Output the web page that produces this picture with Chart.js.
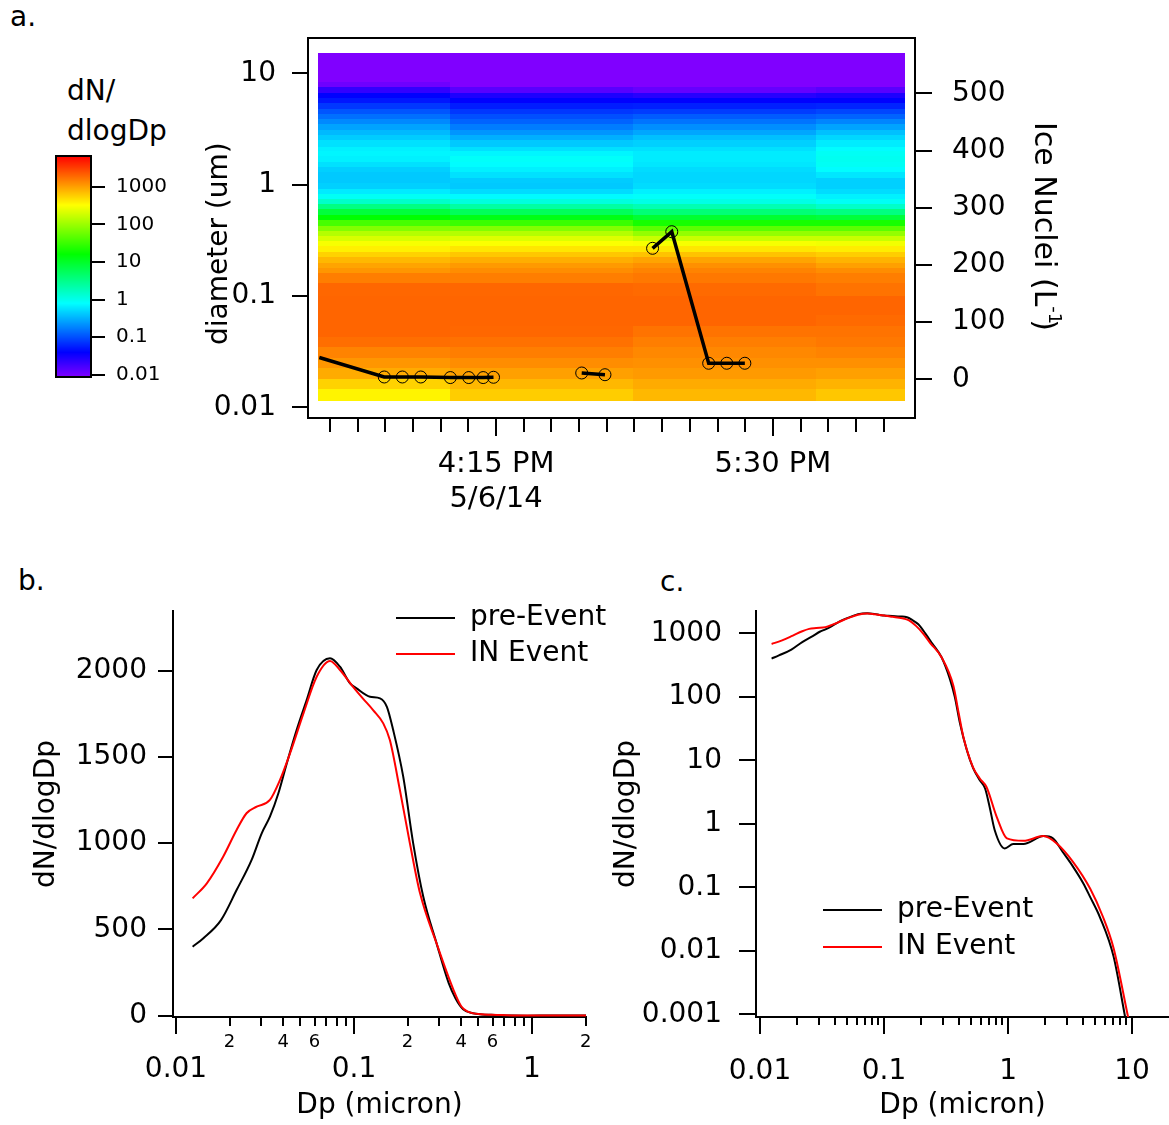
<!DOCTYPE html>
<html>
<head>
<meta charset="utf-8">
<script src="https://cdn.jsdelivr.net/npm/chart.js@4"></script>
<style>
  body { margin: 0; width: 1169px; height: 1125px; background: #fff; position: relative; overflow: hidden; font-family: "DejaVu Sans", sans-serif; }
  canvas, .lbl { position: absolute; }
  .lbl { font-size: 28px; line-height: 1; color: #000; }
</style>
</head>
<body>
<div class="lbl" style="left:10px;top:3px">a.</div>
<div class="lbl" style="left:18px;top:567px">b.</div>
<div class="lbl" style="left:660px;top:568px">c.</div>
<div class="lbl" style="left:67px;top:71px;line-height:40px">dN/<br>dlogDp</div>
<canvas id="cbar" width="160" height="260" style="left:40px;top:140px"></canvas>
<canvas id="chartA" width="900" height="500" style="left:190px;top:20px"></canvas>
<canvas id="chartB" width="608" height="565" style="left:0;top:560px"></canvas>
<canvas id="chartC" width="569" height="565" style="left:600px;top:560px"></canvas>
<script>
// ---- panel a: size distribution vs time ----
// scan column edges (clock time) and diameter bin edges (um)
const scanTimes = ['15:26:45', '16:02:30', '16:52:00', '17:41:40', '18:05:48'];
const binEdges = [0.0115, 0.0146, 0.018, 0.0225, 0.028, 0.035, 0.043, 0.054, 0.067, 0.083, 0.1, 0.13,
  0.16, 0.18, 0.2, 0.225, 0.25, 0.28, 0.31, 0.345, 0.38, 0.43, 0.48, 0.54, 0.6, 0.67, 0.74, 0.83,
  0.92, 1.03, 1.15, 1.29, 1.43, 1.6, 1.8, 2.0, 2.2, 2.5, 2.8, 3.1, 3.5, 3.9, 4.3, 4.8, 5.4, 6.0,
  6.7, 7.5, 8.3, 9.2, 10.3, 15.1];
// dN/dlogDp per bin, smallest diameter first
const scan1 = [370, 555, 880, 1130, 1400, 1800, 2000, 2000, 2000, 2000, 1950, 1500,
  1130, 950, 750, 555, 390, 295, 204, 135, 75, 37, 16, 8, 3.5, 1.5, 0.9, 0.63, 0.46, 0.42, 0.42,
  0.46, 0.56, 0.68, 0.72, 0.68, 0.56, 0.44, 0.35, 0.27, 0.2, 0.146, 0.108, 0.076, 0.051, 0.04,
  0.022, 0.0108, 0.007, 0.006, 0.005];
const scan2 = [590, 750, 1000, 1260, 1500, 1750, 1950, 2000, 2000, 2000, 1950, 1500,
  1260, 1070, 850, 630, 440, 310, 220, 135, 75, 32, 12.6, 5.6, 2.4, 1.2, 0.76, 0.53, 0.42, 0.44,
  0.56, 0.68, 0.78, 0.85, 0.72, 0.56, 0.42, 0.31, 0.23, 0.17, 0.128, 0.1, 0.076, 0.055, 0.04,
  0.028, 0.014, 0.008, 0.007, 0.006, 0.005];
const scan3 = [750, 880, 1070, 1200, 1330, 1500, 1700, 2000, 2000, 2000, 1900, 1600,
  1400, 1200, 950, 660, 440, 295, 170, 93, 47, 21, 9, 4, 1.95, 1.07, 0.85, 0.68, 0.53, 0.5, 0.5,
  0.53, 0.6, 0.64, 0.64, 0.56, 0.46, 0.38, 0.28, 0.21, 0.155, 0.115, 0.08, 0.057, 0.04, 0.025,
  0.012, 0.008, 0.007, 0.006, 0.005];
const scan4 = [630, 800, 1000, 1200, 1400, 1600, 1700, 1900, 2000, 2000, 1700, 1500,
  1260, 1000, 800, 590, 410, 280, 170, 93, 47, 21, 8, 3.5, 1.5, 0.9, 0.68, 0.53, 0.46, 0.46, 0.6,
  0.78, 0.9, 0.95, 0.9, 0.78, 0.64, 0.5, 0.38, 0.27, 0.19, 0.128, 0.09, 0.06, 0.04, 0.028, 0.014,
  0.008, 0.007, 0.006, 0.005];

// ice nuclei concentration (L-1), null = gap in the record
const inTimes = ['15:27:06', '15:44:42', '15:49:36', '15:54:36', '16:02:36', '16:07:36', '16:11:30', '16:14:18',
  '16:26:00', '16:38:12', '16:44:30', '16:50:00', '16:57:24', '17:02:36', '17:12:36', '17:17:30', '17:22:24'];
const inConc = [38, 4, 4, 4, 3, 3, 3, 3.5, null, 11, 8, null, 229, 258, 28, 28, 28];

const timeLabels = ['16:15', '17:30'];
const dateLabel = '5/6/14';
const diamTicks = [0.01, 0.1, 1, 10];
const inTicks = [0, 100, 200, 300, 400, 500];
const cbTicks = [0.01, 0.1, 1, 10, 100, 1000];
const cbRange = [0.0088, 6600];

// ---- panels b and c: averaged size distributions ----
const dpPre = [0.0124, 0.0142, 0.0179, 0.0219, 0.0266, 0.0303, 0.0337, 0.0376, 0.0419, 0.0476, 0.0542,
  0.0617, 0.0733, 0.0834, 0.095, 0.1034, 0.123, 0.14, 0.153, 0.166, 0.189, 0.215, 0.245, 0.291, 0.34,
  0.372, 0.41, 0.465, 0.523, 0.59, 0.653, 0.71, 0.78, 0.94, 1.1, 1.33, 1.93, 2.3, 2.76, 3.35, 4.04,
  4.6, 5.5, 7.1, 8.8];
const dnPre = [400, 448, 554, 728, 903, 1057, 1153, 1289, 1462, 1655, 1829, 2003, 2071, 2022, 1926, 1897,
  1848, 1839, 1790, 1655, 1385, 999, 689, 419, 190, 100, 38, 14.5, 7.5, 4.9, 3.6, 1.86, 0.8, 0.41,
  0.48, 0.48, 0.64, 0.59, 0.36, 0.21, 0.116, 0.07, 0.034, 0.0081, 0.0009];
const dpIn = [0.0124, 0.0149, 0.0184, 0.0219, 0.0249, 0.0284, 0.0337, 0.0384, 0.0437, 0.052, 0.0617,
  0.0733, 0.0834, 0.097, 0.112, 0.128, 0.146, 0.159, 0.181, 0.206, 0.235, 0.291, 0.362, 0.4, 0.436,
  0.52, 0.59, 0.67, 0.81, 0.98, 1.33, 1.93, 2.47, 3.35, 4.6, 5.8, 7.1, 9.3];
const dnIn = [680, 767, 921, 1076, 1173, 1211, 1250, 1366, 1520, 1752, 1964, 2055, 2003, 1916, 1839, 1771,
  1694, 1597, 1308, 999, 709, 419, 150, 55, 23.5, 7.9, 5.2, 3.8, 1.29, 0.59, 0.54, 0.64, 0.49, 0.25,
  0.095, 0.035, 0.011, 0.0009];
const linTicksB = [0, 500, 1000, 1500, 2000];
const logTicksC = [0.001, 0.01, 0.1, 1, 10, 100, 1000];

Chart.defaults.font.family = '"DejaVu Sans", sans-serif';
Chart.defaults.color = '#000';

const FONT = '"DejaVu Sans", sans-serif';
const toMin = t => { const [h, m, s] = t.split(':').map(Number); return h * 60 + m + (s || 0) / 60; };
const clean = v => Number(v.toPrecision(6));
const isDecade = v => Math.abs(Math.log10(v) - Math.round(Math.log10(v))) < 1e-6;
const pts = (xs, ys) => xs.map((x, i) => ({x: x, y: ys[i]}));

// fixed axis sizes, no extra room kept for half labels
const fixV = w => s => { s.width = w; s.paddingTop = 0; s.paddingBottom = 0; };
const fixH = h => s => { s.height = h; s.paddingLeft = 0; s.paddingRight = 0; };

// 1..9 x 10^n ticks between lo and hi
function logMinor(lo, hi) {
  const out = [];
  for (let e = Math.floor(Math.log10(lo)); e <= Math.ceil(Math.log10(hi)); e++) {
    for (let m = 1; m < 10; m++) {
      const v = clean(m * Math.pow(10, e));
      if (v >= lo && v <= hi) out.push(v);
    }
  }
  return out;
}

// Igor "Rainbow" on a log scale: red at the top of the range, violet at the bottom
function rainbow(v) {
  const lo = Math.log10(cbRange[0]), hi = Math.log10(cbRange[1]);
  let f = (hi - Math.log10(v)) / (hi - lo);
  f = Math.min(1, Math.max(0, f));
  return 'hsl(' + (f * 270).toFixed(1) + ',100%,50%)';
}

// tick marks drawn outward from each axis
function tickMarks(specs) {
  return {
    id: 'tickMarks',
    afterDraw(chart) {
      const ctx = chart.ctx;
      ctx.save();
      ctx.strokeStyle = '#000';
      ctx.lineWidth = 2;
      specs.forEach(sp => {
        const s = chart.scales[sp.scale];
        sp.values.forEach(v => {
          const len = sp.len(v);
          const p = Math.round(s.getPixelForValue(v));
          ctx.beginPath();
          if (s.position === 'bottom') { ctx.moveTo(p, s.top); ctx.lineTo(p, s.top + len); }
          else if (s.position === 'left') { ctx.moveTo(s.right, p); ctx.lineTo(s.right - len, p); }
          else { ctx.moveTo(s.left, p); ctx.lineTo(s.left + len, p); }
          ctx.stroke();
        });
      });
      ctx.restore();
    }
  };
}

function lineLegend(x, y, gap) {
  return {
    id: 'lineLegend',
    afterDraw(chart) {
      const ctx = chart.ctx;
      ctx.save();
      ctx.font = '28px ' + FONT;
      ctx.textBaseline = 'middle';
      ctx.fillStyle = '#000';
      chart.data.datasets.forEach((d, i) => {
        const yy = y + i * gap;
        ctx.strokeStyle = d.borderColor;
        ctx.lineWidth = 2;
        ctx.beginPath(); ctx.moveTo(x, yy); ctx.lineTo(x + 59, yy); ctx.stroke();
        ctx.fillText(d.label, x + 74, yy);
      });
      ctx.restore();
    }
  };
}

const noGrid = {display: false, drawTicks: false};
const axisBorder = {display: true, color: '#000', width: 2};
const common = {
  responsive: false, animation: false, devicePixelRatio: 1,
  plugins: {legend: {display: false}, tooltip: {enabled: false}}
};

// ---- colour bar ----
new Chart(document.getElementById('cbar'), {
  type: 'scatter',
  data: {datasets: []},
  options: {
    ...common,
    layout: {padding: {left: 16, top: 16, right: 0, bottom: 23}},
    scales: {
      x: {display: false, min: 0, max: 1},
      y: {
        type: 'logarithmic', position: 'right', min: cbRange[0], max: cbRange[1],
        grid: noGrid, border: {display: false},
        afterFit: fixV(109),
        afterBuildTicks: s => { s.ticks = cbTicks.map(v => ({value: v})); },
        ticks: {autoSkip: false, padding: 25, font: {size: 20}, callback: v => String(v)}
      }
    }
  },
  plugins: [{
    id: 'gradient',
    beforeDraw(chart) {
      const {ctx, chartArea: a, scales: {y}} = chart;
      for (let py = Math.floor(a.top); py < a.bottom; py++) {
        ctx.fillStyle = rainbow(y.getValueForPixel(py + 0.5));
        ctx.fillRect(a.left, py, a.right - a.left, 1);
      }
      ctx.strokeStyle = '#000';
      ctx.lineWidth = 2;
      ctx.strokeRect(a.left, a.top, a.right - a.left, a.bottom - a.top);
    }
  }, tickMarks([{scale: 'y', values: cbTicks, len: () => 14}])]
});

// ---- panel a ----
const scans = [scan1, scan2, scan3, scan4];
const majorTimes = timeLabels.map(toMin);
const minorTimes = [];
for (let m = toMin('15:30'); m <= toMin('18:00'); m += 7.5) minorTimes.push(m);
const isMajorTime = v => majorTimes.some(m => Math.abs(m - v) < 0.01);

function timeLabel(v) {
  const i = majorTimes.findIndex(m => Math.abs(m - v) < 0.01);
  if (i < 0) return '';
  const h = Math.floor(v / 60), m = Math.round(v % 60);
  const txt = ((h - 1) % 12 + 1) + ':' + String(m).padStart(2, '0') + (h >= 12 ? ' PM' : ' AM');
  return i === 0 ? [txt, dateLabel] : txt;
}

const panelA = {
  id: 'panelA',
  beforeDatasetsDraw(chart) {
    const {ctx, scales: {x, y}} = chart;
    ctx.save();
    scans.forEach((col, c) => {
      const x0 = Math.round(x.getPixelForValue(toMin(scanTimes[c])));
      const x1 = Math.round(x.getPixelForValue(toMin(scanTimes[c + 1])));
      col.forEach((v, r) => {
        const y0 = Math.round(y.getPixelForValue(binEdges[r]));
        const y1 = Math.round(y.getPixelForValue(binEdges[r + 1]));
        ctx.fillStyle = rainbow(v);
        ctx.fillRect(x0, y1, x1 - x0, y0 - y1);
      });
    });
    ctx.restore();
  },
  afterDraw(chart) {
    const {ctx, chartArea: a} = chart;
    ctx.save();
    ctx.strokeStyle = '#000';
    ctx.lineWidth = 2;
    ctx.strokeRect(a.left, a.top, a.right - a.left, a.bottom - a.top);
    ctx.fillStyle = '#000';
    ctx.textBaseline = 'middle';
    ctx.textAlign = 'left';
    // left axis title, reading upwards
    ctx.save();
    ctx.font = '28px ' + FONT;
    ctx.translate(a.left - 88, a.bottom - 73);
    ctx.rotate(-Math.PI / 2);
    ctx.fillText('diameter (um)', 0, 0);
    ctx.restore();
    // right axis title, reading downwards, with superscript
    ctx.save();
    ctx.translate(a.right + 128, a.top + 84);
    ctx.rotate(Math.PI / 2);
    ctx.font = '30px ' + FONT;
    const main = 'Ice Nuclei (L';
    const w = ctx.measureText(main).width;
    ctx.fillText(main, 0, 0);
    ctx.fillText(')', w + 13, 0);
    ctx.font = '18px ' + FONT;
    ctx.fillText('-1', w, -11);
    ctx.restore();
    ctx.restore();
  }
};

new Chart(document.getElementById('chartA'), {
  type: 'line',
  data: {
    datasets: [{
      label: 'Ice Nuclei', yAxisID: 'y2',
      data: pts(inTimes.map(toMin), inConc),
      borderColor: '#000', borderWidth: 3.5, spanGaps: false,
      pointRadius: c => c.dataIndex === 0 ? 0 : 6,
      pointBorderColor: '#000', pointBorderWidth: 1, pointBackgroundColor: 'rgba(0,0,0,0)'
    }]
  },
  options: {
    ...common,
    layout: {padding: {top: 18, left: 0, right: 0, bottom: 0}},
    scales: {
      x: {
        type: 'linear', min: 924.04, max: 1088.5, grid: noGrid, border: {display: false},
        afterBuildTicks: s => { s.ticks = minorTimes.map(v => ({value: v})); },
        afterFit: fixH(102),
        ticks: {autoSkip: false, maxRotation: 0, minRotation: 0, padding: 28,
          font: {size: 29, lineHeight: 1.24}, callback: v => timeLabel(v)}
      },
      y: {
        type: 'logarithmic', position: 'left', min: 0.00802, max: 20.8, grid: noGrid, border: {display: false},
        afterBuildTicks: s => { s.ticks = diamTicks.map(v => ({value: v})); },
        afterFit: fixV(118),
        ticks: {autoSkip: false, padding: 32, font: {size: 28}, callback: v => String(v)}
      },
      y2: {
        type: 'linear', position: 'right', min: -67.7, max: 596.7, grid: noGrid, border: {display: false},
        afterBuildTicks: s => { s.ticks = inTicks.map(v => ({value: v})); },
        afterFit: fixV(175),
        ticks: {autoSkip: false, padding: 37, font: {size: 28}, callback: v => String(v)}
      }
    }
  },
  plugins: [panelA, tickMarks([
    {scale: 'x', values: minorTimes, len: v => isMajorTime(v) ? 18 : 14},
    {scale: 'y', values: diamTicks, len: () => 16},
    {scale: 'y2', values: inTicks, len: () => 17}
  ])]
});

// ---- panels b and c ----
function distDatasets() {
  return [
    {label: 'pre-Event', data: pts(dpPre, dnPre), borderColor: '#000000', borderWidth: 2,
      pointRadius: 0, cubicInterpolationMode: 'monotone', order: 1},
    {label: 'IN Event', data: pts(dpIn, dnIn), borderColor: '#ff0000', borderWidth: 2,
      pointRadius: 0, cubicInterpolationMode: 'monotone', order: 0}
  ];
}

const ticksB = logMinor(0.01, 2.01);
const majorB = v => isDecade(v);
const digitB = v => Math.round(v / Math.pow(10, Math.floor(Math.log10(v) + 1e-9)));

new Chart(document.getElementById('chartB'), {
  type: 'line',
  data: {datasets: distDatasets()},
  options: {
    ...common,
    layout: {padding: {top: 51, left: 0, right: 22, bottom: 0}},
    scales: {
      x: {
        type: 'logarithmic', min: 0.00962, max: 2.01, grid: noGrid, border: axisBorder,
        afterBuildTicks: s => { s.ticks = ticksB.map(v => ({value: v})); },
        afterFit: fixH(108),
        ticks: {
          autoSkip: false, maxRotation: 0, minRotation: 0, padding: 11,
          font: c => (c.tick && majorB(c.tick.value)) ? {size: 28, lineHeight: 1} : {size: 18, lineHeight: 1.6},
          callback: v => {
            if (majorB(v)) return ['', String(v)];
            return [2, 4, 6].includes(digitB(v)) ? String(digitB(v)) : '';
          }
        },
        title: {display: true, text: 'Dp (micron)', font: {size: 28}, padding: {top: 0, bottom: 2}}
      },
      y: {
        type: 'linear', min: -7.5, max: 2345, grid: noGrid, border: axisBorder,
        afterBuildTicks: s => { s.ticks = linTicksB.map(v => ({value: v})); },
        afterFit: fixV(173),
        ticks: {autoSkip: false, padding: 26, font: {size: 28}, callback: v => String(v)},
        title: {display: true, text: 'dN/dlogDp', font: {size: 28}, padding: {top: 30, bottom: 0}}
      }
    }
  },
  plugins: [tickMarks([
    {scale: 'x', values: ticksB, len: v => majorB(v) ? 17 : 9},
    {scale: 'y', values: linTicksB, len: () => 15}
  ]), lineLegend(396, 58, 36)]
});

const ticksC = logMinor(0.01, 19.86);

new Chart(document.getElementById('chartC'), {
  type: 'line',
  data: {datasets: distDatasets()},
  options: {
    ...common,
    layout: {padding: {top: 51, left: 0, right: 0, bottom: 0}},
    scales: {
      x: {
        type: 'logarithmic', min: 0.00928, max: 19.86, grid: noGrid, border: axisBorder,
        afterBuildTicks: s => { s.ticks = ticksC.map(v => ({value: v})); },
        afterFit: fixH(108),
        ticks: {autoSkip: false, maxRotation: 0, minRotation: 0, padding: 38, font: {size: 28},
          callback: v => isDecade(v) ? String(v) : ''},
        title: {display: true, text: 'Dp (micron)', font: {size: 28}, padding: {top: 0, bottom: 2}}
      },
      y: {
        type: 'logarithmic', min: 0.000907, max: 2244, grid: noGrid, border: axisBorder,
        afterBuildTicks: s => { s.ticks = logTicksC.map(v => ({value: v})); },
        afterFit: fixV(156),
        ticks: {autoSkip: false, padding: 34, font: {size: 28}, callback: v => String(v)},
        title: {display: true, text: 'dN/dlogDp', font: {size: 28}, padding: {top: 10, bottom: 0}}
      }
    }
  },
  plugins: [tickMarks([
    {scale: 'x', values: ticksC, len: v => isDecade(v) ? 17 : 8},
    {scale: 'y', values: logTicksC, len: () => 17}
  ]), lineLegend(223, 350, 37)]
});
</script>
</body>
</html>
